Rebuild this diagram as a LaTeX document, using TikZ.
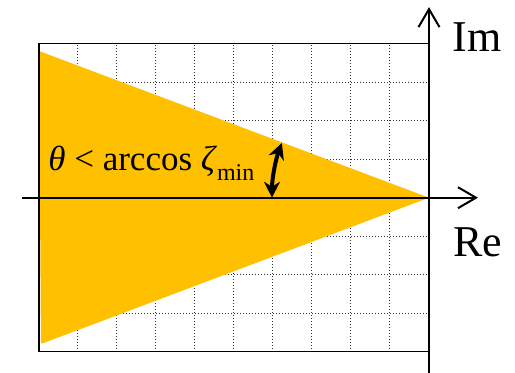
\documentclass[tikz,border=0pt]{standalone}
\usepackage{fontspec}
\setmainfont{Liberation Serif}
\usepackage{xcolor}
\usepackage{tikz}
\usetikzlibrary{arrows.meta}
\definecolor{sector}{HTML}{FFC000}
\tikzset{
  gridline/.style={black!80,densely dotted,line width=0.5pt},
  frameline/.style={black,line width=0.7pt},
  axisline/.style={black,line width=1pt,-{Straight Barb[length=9pt,width=10.5pt]}},
  axislabel/.style={font=\fontsize{22}{22}\selectfont,inner sep=0pt},
  anglearrow/.style={line width=2pt,{Stealth[length=8pt,width=8pt]}-{Stealth[length=8pt,width=8pt]}}}
\newcommand{\sgrid}{%
  \foreach \i in {-9,...,-1}{\draw[gridline] (\i,-4) -- (\i,4);}
  \foreach \j in {-3,...,3}{\draw[gridline] (-10,\j) -- (0,\j);}}
\begin{document}
\begin{tikzpicture}[x=19.5pt,y=19.25pt]
  \useasboundingbox (-11,-4.553) rectangle (2.205,5.135);
  \sgrid
  \coordinate (o) at (0,0);
  \fill[sector,rounded corners=1pt] (o) -- (-10,3.81) -- (-9.95,-3.80) -- cycle;
  \draw[frameline] (0,4) -- (-10,4) -- (-10,-4) -- (0,-4);
  % axes
  \coordinate (reS) at (-10.44,0); \coordinate (reE) at (1.256,0);
  \coordinate (imS) at (0,-4.6); \coordinate (imE) at (0,4.95);
  \draw[axisline] (reS) -- (reE);
  \draw[axisline] (imS) -- (imE);
  \node[axislabel] (im) at (1.24,4.16) {Im};
  \node[axislabel] (re) at (1.25,-1.16) {Re};
  % angle
  \node[font=\fontsize{17.5}{17.5}\selectfont,anchor=base west,inner sep=0pt] (cond) at (-9.77,0.7)
    {\textit{θ} < arccos \textit{ζ}\raisebox{-0.28em}{\fontsize{12}{12}\selectfont min}};
  \draw[anglearrow] (o) ++(180:78.5pt) arc[start angle=180,end angle=159.6,radius=78.5pt];
\end{tikzpicture}
\end{document}
